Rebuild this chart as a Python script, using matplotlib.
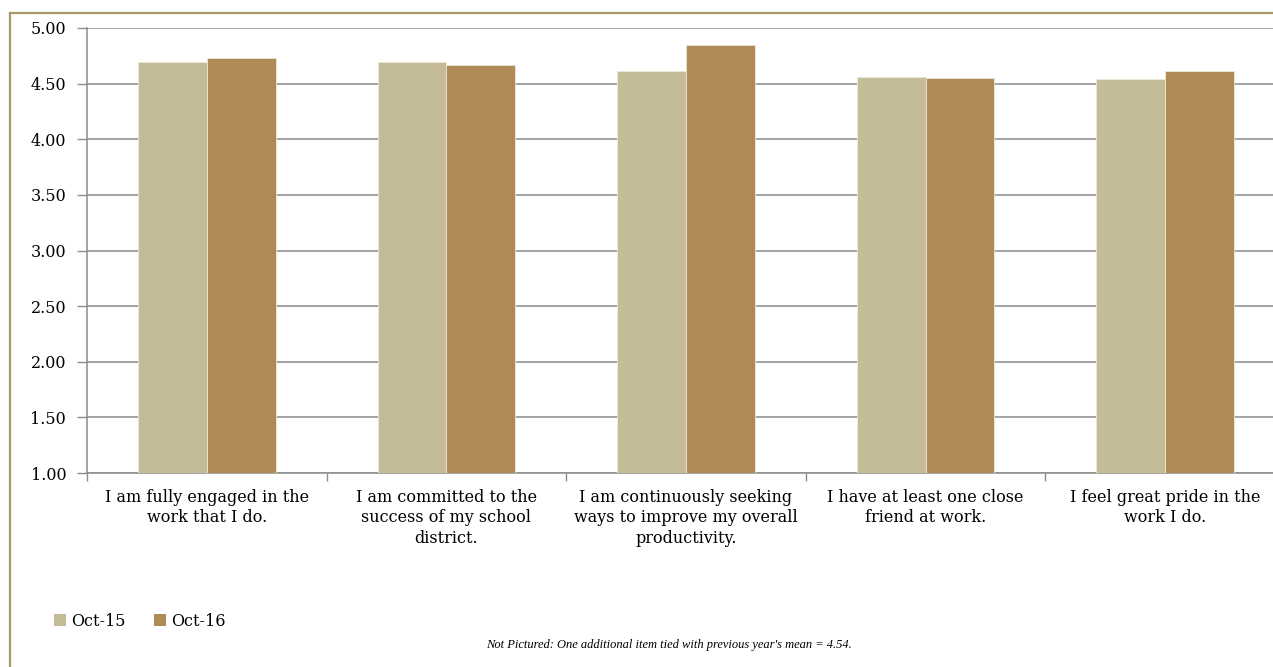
import matplotlib
matplotlib.use("Agg")
import matplotlib.pyplot as plt
from matplotlib.patches import Rectangle, Patch
import numpy as np

categories = [
    "I am fully engaged in the\nwork that I do.",
    "I am committed to the\nsuccess of my school\ndistrict.",
    "I am continuously seeking\nways to improve my overall\nproductivity.",
    "I have at least one close\nfriend at work.",
    "I feel great pride in the\nwork I do.",
]
series_names = ["Oct-15", "Oct-16"]
oct15 = [4.69, 4.69, 4.61, 4.56, 4.54]
oct16 = [4.73, 4.67, 4.85, 4.55, 4.61]
yticks = [1.00, 1.50, 2.00, 2.50, 3.00, 3.50, 4.00, 4.50, 5.00]
footnote = "Not Pictured: One additional item tied with previous year's mean = 4.54."

c15 = "#c4bc96"
c16 = "#af8a57"
grid_c = "#8c8c8c"
frame_c = "#a89968"
serif = ["DejaVu Serif"]

W, H = 1273, 667
fig = plt.figure(figsize=(W / 100, H / 100), dpi=100)

# outer frame (chart area border)
fig.patches.append(Rectangle((10 / W, -0.05), 1.2, 1 - 12.5 / H + 0.05,
                             transform=fig.transFigure, fill=False,
                             edgecolor=frame_c, linewidth=1.6, zorder=0))

left = 87 / W
width = (1285 - 87) / W
bottom = (H - 473) / H
height = (473 - 28) / H
ax = fig.add_axes([left, bottom, width, height])

x = np.arange(len(categories))
bw = 0.2875
ax.bar(x - bw / 2, np.array(oct15) - 1, bw, bottom=1, color=c15,
       edgecolor="#ece8d8", linewidth=0.6, zorder=3)
ax.bar(x + bw / 2, np.array(oct16) - 1, bw, bottom=1, color=c16,
       edgecolor="#ece8d8", linewidth=0.6, zorder=3)

ax.set_xlim(-0.5, 4.5)
ax.set_ylim(1, 5)
ax.set_yticks(yticks)
ax.set_yticklabels([f"{v:.2f}" for v in yticks], fontsize=11.5, family=serif)
ax.yaxis.grid(True, color=grid_c, linewidth=1.1, zorder=0)
ax.set_axisbelow(True)

ax.set_xticks(np.arange(-0.5, 4.6, 1.0))
ax.set_xticklabels([])
ax.tick_params(axis="x", length=6, color=grid_c, width=1)
ax.tick_params(axis="y", length=7, color=grid_c, width=1, pad=8)

for s in ["top", "right"]:
    ax.spines[s].set_visible(False)
for s in ["left", "bottom"]:
    ax.spines[s].set_color(grid_c)
    ax.spines[s].set_linewidth(1.1)

for xi, lab in zip(x, categories):
    ax.text(xi, -0.036, lab, transform=ax.get_xaxis_transform(),
            ha="center", va="top", fontsize=11.5, family=serif,
            linespacing=1.25)

handles = [Patch(facecolor=c15, label=series_names[0]),
           Patch(facecolor=c16, label=series_names[1])]
fig.legend(handles=handles, loc="center left",
           bbox_to_anchor=(40 / W, 1 - 621 / H), ncol=2, frameon=False,
           prop={"family": serif, "size": 11.5}, handlelength=0.7,
           handleheight=0.7, handletextpad=0.35, columnspacing=1.8)

fig.text(852 / W, 1 - 645 / H, footnote, ha="right", va="center",
         fontsize=9, style="italic", family=["Liberation Serif"])

fig.savefig("out.png", dpi=100)
